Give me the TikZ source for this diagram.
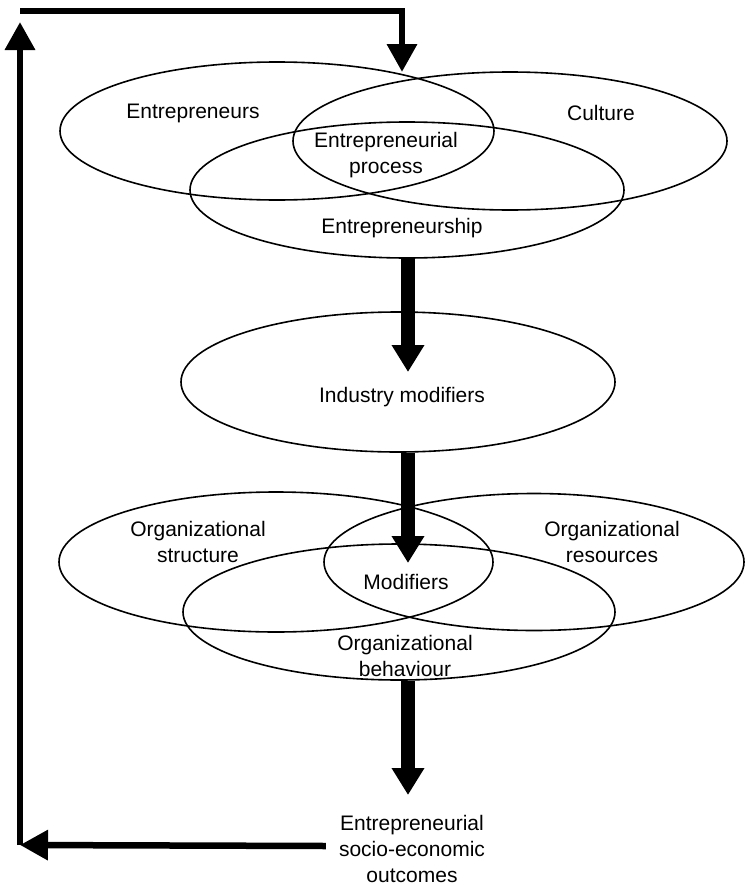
\documentclass[tikz,border=0pt]{standalone}
\usepackage{fontspec}
\setmainfont{Liberation Sans}
\usetikzlibrary{shapes.geometric,arrows.meta}

\begin{document}
\begin{tikzpicture}[x=1pt,y=-1pt,
	oval/.style={draw, ellipse, line width=1.6pt, inner sep=0pt},
	txt/.style={font=\fontsize{21}{26}\selectfont, align=center, inner sep=0pt},
	flow/.style={line width=14pt, -{Triangle[width=31pt,length=27pt]}},
	back/.style={line width=6.5pt, -{Triangle[width=29pt,length=28pt]}}]
	\useasboundingbox (0,0) rectangle (745,886);
	
	% top cluster
	\node[oval, minimum width=434pt, minimum height=138pt] (ents) at (277,131) {};
	\node[oval, minimum width=434pt, minimum height=138pt] (cult) at (510,141) {};
	\node[oval, minimum width=434pt, minimum height=136pt] (ship) at (407,190) {};
	\node[txt] (entslbl) at (193,113) {Entrepreneurs};
	\node[txt] (cultlbl) at (601,113) {Culture};
	\node[txt] (proc) at (386,155) {Entrepreneurial\\process};
	\node[txt] (shiplbl) at (402,228) {Entrepreneurship};
	
	% industry
	\node[oval, minimum width=434pt, minimum height=140pt] (ind) at (398,382) {};
	\node[txt] (indlbl) at (402,397) {Industry modifiers};
	
	% organization cluster
	\node[oval, minimum width=434pt, minimum height=140pt] (struc) at (276,562) {};
	\node[oval, minimum width=420pt, minimum height=137pt] (res) at (534,562) {};
	\node[oval, minimum width=432pt, minimum height=136pt] (beh) at (399,612) {};
	\node[txt] (struclbl) at (198,542) {Organizational\\structure};
	\node[txt] (reslbl) at (612,542) {Organizational\\resources};
	\node[txt] (mod) at (406,582) {Modifiers};
	\node[txt] (behlbl) at (405,656) {Organizational\\behaviour};
	
	\node[txt, inner xsep=13pt] (out) at (412,849) {Entrepreneurial\\socio-economic\\outcomes};
	
	\coordinate (t1) at (408,372);
	\coordinate (t2) at (408,563);
	\coordinate (t3) at (408,795);
	\coordinate (bl) at (20,845);
	\coordinate (up) at (20,22);
	\coordinate (tl) at (20,11);
	\coordinate (in) at (402,72);
	
	\draw[flow] (ship.south -| t1) -- (t1);
	\draw[flow] (ind.south -| t2) -- (t2);
	\draw[flow] (beh.south -| t3) -- (t3);
	
	% feedback loop
	\draw[back] ([yshift=3pt]out.west) -- (bl);
	\draw[back] (bl) -- (up);
	\draw[back] (tl) -| (in);
\end{tikzpicture}
\end{document}
